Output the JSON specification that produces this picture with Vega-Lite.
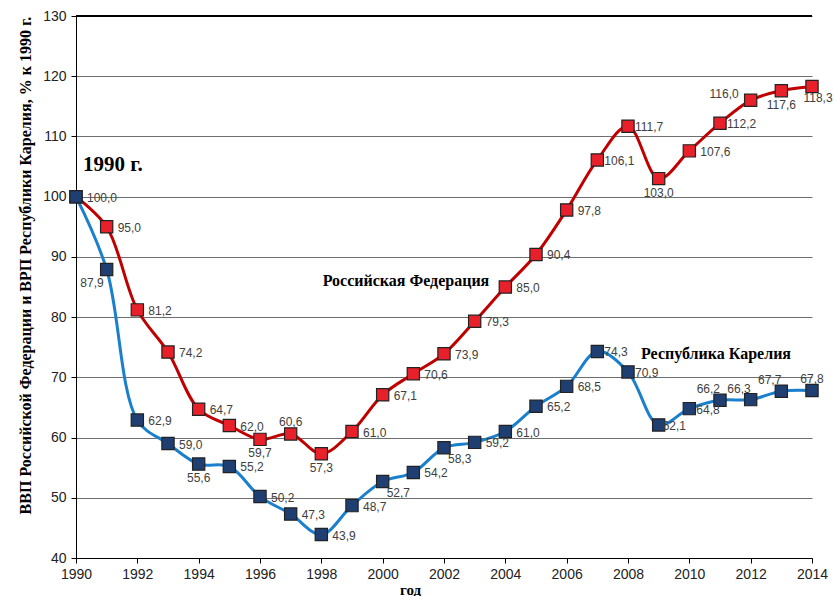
{
  "$schema": "https://vega.github.io/schema/vega-lite/v6.json",
  "width": 736,
  "height": 542,
  "autosize": {"type": "none"},
  "padding": {"left": 76, "top": 16, "right": 23, "bottom": 38},
  "background": "white",
  "config": {
    "view": {"stroke": null},
    "locale": {"number": {"decimal": ",", "thousands": " ", "grouping": [3], "currency": ["", ""]}},
    "text": {"font": "Liberation Sans", "fontSize": 12, "fill": "#404040"}
  },
  "datasets": {
    "notes": [
      {"note": "1990 г.", "nx": 1990.23, "ny": 105.3},
      {"note": "Российская Федерация", "nx": 2000.76, "ny": 86.0},
      {"note": "Республика Карелия", "nx": 2010.87, "ny": 73.9}
    ]
  },
  "data": {"values": [
    {"year": 1990, "series": "Российская Федерация", "value": 100.0},
    {"year": 1991, "series": "Российская Федерация", "value": 95.0},
    {"year": 1992, "series": "Российская Федерация", "value": 81.2},
    {"year": 1993, "series": "Российская Федерация", "value": 74.2},
    {"year": 1994, "series": "Российская Федерация", "value": 64.7},
    {"year": 1995, "series": "Российская Федерация", "value": 62.0},
    {"year": 1996, "series": "Российская Федерация", "value": 59.7},
    {"year": 1997, "series": "Российская Федерация", "value": 60.6},
    {"year": 1998, "series": "Российская Федерация", "value": 57.3},
    {"year": 1999, "series": "Российская Федерация", "value": 61.0},
    {"year": 2000, "series": "Российская Федерация", "value": 67.1},
    {"year": 2001, "series": "Российская Федерация", "value": 70.6},
    {"year": 2002, "series": "Российская Федерация", "value": 73.9},
    {"year": 2003, "series": "Российская Федерация", "value": 79.3},
    {"year": 2004, "series": "Российская Федерация", "value": 85.0},
    {"year": 2005, "series": "Российская Федерация", "value": 90.4},
    {"year": 2006, "series": "Российская Федерация", "value": 97.8},
    {"year": 2007, "series": "Российская Федерация", "value": 106.1},
    {"year": 2008, "series": "Российская Федерация", "value": 111.7},
    {"year": 2009, "series": "Российская Федерация", "value": 103.0},
    {"year": 2010, "series": "Российская Федерация", "value": 107.6},
    {"year": 2011, "series": "Российская Федерация", "value": 112.2},
    {"year": 2012, "series": "Российская Федерация", "value": 116.0},
    {"year": 2013, "series": "Российская Федерация", "value": 117.6},
    {"year": 2014, "series": "Российская Федерация", "value": 118.3},
    {"year": 1990, "series": "Республика Карелия", "value": 100.0},
    {"year": 1991, "series": "Республика Карелия", "value": 87.9},
    {"year": 1992, "series": "Республика Карелия", "value": 62.9},
    {"year": 1993, "series": "Республика Карелия", "value": 59.0},
    {"year": 1994, "series": "Республика Карелия", "value": 55.6},
    {"year": 1995, "series": "Республика Карелия", "value": 55.2},
    {"year": 1996, "series": "Республика Карелия", "value": 50.2},
    {"year": 1997, "series": "Республика Карелия", "value": 47.3},
    {"year": 1998, "series": "Республика Карелия", "value": 43.9},
    {"year": 1999, "series": "Республика Карелия", "value": 48.7},
    {"year": 2000, "series": "Республика Карелия", "value": 52.7},
    {"year": 2001, "series": "Республика Карелия", "value": 54.2},
    {"year": 2002, "series": "Республика Карелия", "value": 58.3},
    {"year": 2003, "series": "Республика Карелия", "value": 59.2},
    {"year": 2004, "series": "Республика Карелия", "value": 61.0},
    {"year": 2005, "series": "Республика Карелия", "value": 65.2},
    {"year": 2006, "series": "Республика Карелия", "value": 68.5},
    {"year": 2007, "series": "Республика Карелия", "value": 74.3},
    {"year": 2008, "series": "Республика Карелия", "value": 70.9},
    {"year": 2009, "series": "Республика Карелия", "value": 62.1},
    {"year": 2010, "series": "Республика Карелия", "value": 64.8},
    {"year": 2011, "series": "Республика Карелия", "value": 66.2},
    {"year": 2012, "series": "Республика Карелия", "value": 66.3},
    {"year": 2013, "series": "Республика Карелия", "value": 67.7},
    {"year": 2014, "series": "Республика Карелия", "value": 67.8}
  ]},
  "encoding": {
    "x": {
      "field": "year", "type": "quantitative",
      "scale": {"domain": [1990, 2014], "nice": false, "zero": false},
      "axis": {
        "values": [1990, 1992, 1994, 1996, 1998, 2000, 2002, 2004, 2006, 2008, 2010, 2012, 2014],
        "format": "d", "grid": false, "labelFlush": false, "labelBound": false, "labelOverlap": false,
        "domainColor": "#000", "tickColor": "#000", "tickSize": 5,
        "labelFont": "Liberation Sans", "labelFontSize": 14, "labelColor": "#222", "labelPadding": 4,
        "title": "год", "titleFont": "Liberation Serif", "titleFontSize": 15, "titleFontWeight": "bold",
        "titleColor": "#000", "titleX": 334, "titleY": 24, "titleBaseline": "top"
      }
    },
    "y": {
      "field": "value", "type": "quantitative",
      "scale": {"domain": [40, 130], "nice": false, "zero": false},
      "axis": {
        "values": [40, 50, 60, 70, 80, 90, 100, 110, 120, 130],
        "grid": true, "gridColor": "#6e6e6e", "gridWidth": 1,
        "domainColor": "#000", "tickColor": "#000", "tickSize": 5,
        "labelFont": "Liberation Sans", "labelFontSize": 14, "labelColor": "#222", "labelPadding": 5,
        "title": "ВВП Российской Федерации и ВРП Республики Карелия, % к 1990 г.",
        "titleFont": "Liberation Serif", "titleFontSize": 16, "titleFontWeight": "bold", "titleColor": "#000",
        "titleX": -43, "titleY": 249
      }
    }
  },
  "layer": [
    {
      "mark": {"type": "rule", "color": "#000", "strokeWidth": 1},
      "encoding": {"y": {"datum": 130}, "x": {"datum": 1990}, "x2": {"datum": 2014}}
    },
    {
      "mark": {"type": "line", "interpolate": "catmull-rom", "strokeWidth": 3},
      "encoding": {
        "color": {"field": "series", "type": "nominal",
          "scale": {"domain": ["Российская Федерация", "Республика Карелия"], "range": ["#c00000", "#1a7fcc"]},
          "legend": null}
      }
    },
    {
      "mark": {"type": "point", "shape": "square", "filled": true, "size": 150, "strokeWidth": 1.2, "stroke": "#222", "opacity": 1},
      "encoding": {
        "fill": {"field": "series", "type": "nominal",
          "scale": {"domain": ["Российская Федерация", "Республика Карелия"], "range": ["#e8202a", "#1f3f72"]},
          "legend": null}
      }
    },
    {
      "transform": [{"filter": "(datum.series === 'Российская Федерация' && indexof([1990,1991,1992,1993,1994,1995,1999,2000,2001,2002,2003,2004,2005,2006,2010], datum.year) >= 0) || (datum.series === 'Республика Карелия' && indexof([1992,1993,1995,1996,1997,1998,1999,2001,2003,2004,2005,2006], datum.year) >= 0)"}],
      "mark": {"type": "text", "align": "left", "baseline": "middle", "dx": 11, "dy": 1},
      "encoding": {"text": {"field": "value", "type": "quantitative", "format": ".1f"}}
    },
    {
      "transform": [{"filter": "(datum.series === 'Российская Федерация' && indexof([2007,2008,2011], datum.year) >= 0) || (datum.series === 'Республика Карелия' && indexof([2007,2008,2010], datum.year) >= 0)"}],
      "mark": {"type": "text", "align": "left", "baseline": "middle", "dx": 7, "dy": 1},
      "encoding": {"text": {"field": "value", "type": "quantitative", "format": ".1f"}}
    },
    {
      "transform": [{"filter": "datum.series === 'Республика Карелия' && datum.year === 2009"}],
      "mark": {"type": "text", "align": "left", "baseline": "middle", "dx": 4, "dy": 1},
      "encoding": {"text": {"field": "value", "type": "quantitative", "format": ".1f"}}
    },
    {
      "transform": [{"filter": "(datum.series === 'Российская Федерация' && indexof([1996,1998,2009,2013], datum.year) >= 0) || (datum.series === 'Республика Карелия' && datum.year === 1994)"}],
      "mark": {"type": "text", "align": "center", "baseline": "middle", "dy": 14},
      "encoding": {"text": {"field": "value", "type": "quantitative", "format": ".1f"}}
    },
    {
      "transform": [{"filter": "datum.series === 'Российская Федерация' && datum.year === 2014"}],
      "mark": {"type": "text", "align": "center", "baseline": "middle", "dx": 6, "dy": 12},
      "encoding": {"text": {"field": "value", "type": "quantitative", "format": ".1f"}}
    },
    {
      "transform": [{"filter": "(datum.series === 'Российская Федерация' && datum.year === 1997) || (datum.series === 'Республика Карелия' && datum.year === 2014)"}],
      "mark": {"type": "text", "align": "center", "baseline": "middle", "dy": -12},
      "encoding": {"text": {"field": "value", "type": "quantitative", "format": ".1f"}}
    },
    {
      "transform": [{"filter": "datum.series === 'Республика Карелия' && indexof([2000,2002], datum.year) >= 0"}],
      "mark": {"type": "text", "align": "left", "baseline": "middle", "dx": 4, "dy": 11},
      "encoding": {"text": {"field": "value", "type": "quantitative", "format": ".1f"}}
    },
    {
      "transform": [{"filter": "datum.series === 'Республика Карелия' && indexof([2011,2012,2013], datum.year) >= 0"}],
      "mark": {"type": "text", "align": "right", "baseline": "middle", "dx": 0, "dy": -11},
      "encoding": {"text": {"field": "value", "type": "quantitative", "format": ".1f"}}
    },
    {
      "transform": [{"filter": "datum.series === 'Республика Карелия' && datum.year === 1991"}],
      "mark": {"type": "text", "align": "right", "baseline": "middle", "dx": -3, "dy": 13},
      "encoding": {"text": {"field": "value", "type": "quantitative", "format": ".1f"}}
    },
    {
      "transform": [{"filter": "datum.series === 'Российская Федерация' && datum.year === 2012"}],
      "mark": {"type": "text", "align": "right", "baseline": "middle", "dx": -12, "dy": -6},
      "encoding": {"text": {"field": "value", "type": "quantitative", "format": ".1f"}}
    },
    {
      "data": {"name": "notes"},
      "transform": [{"filter": "datum.note === '1990 г.'"}],
      "mark": {"type": "text", "align": "left", "baseline": "middle", "font": "Liberation Serif", "fontSize": 21, "fontWeight": "bold", "fill": "#000"},
      "encoding": {"x": {"field": "nx", "type": "quantitative"}, "y": {"field": "ny", "type": "quantitative"}, "text": {"field": "note"}}
    },
    {
      "data": {"name": "notes"},
      "transform": [{"filter": "datum.note !== '1990 г.'"}],
      "mark": {"type": "text", "align": "center", "baseline": "middle", "font": "Liberation Serif", "fontSize": 16, "fontWeight": "bold", "fill": "#000"},
      "encoding": {"x": {"field": "nx", "type": "quantitative"}, "y": {"field": "ny", "type": "quantitative"}, "text": {"field": "note"}}
    }
  ]
}
